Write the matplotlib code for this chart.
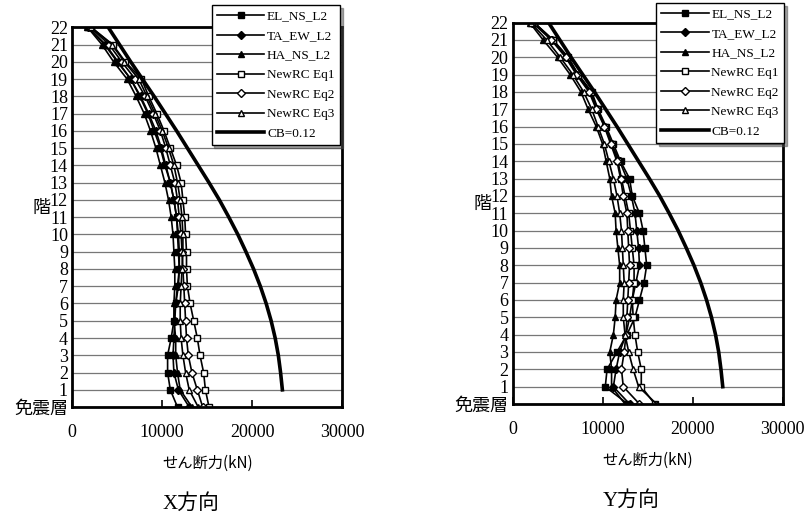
import matplotlib
matplotlib.use("Agg")
import matplotlib.pyplot as plt

plt.rcParams['font.family'] = ['Liberation Serif', 'Noto Sans CJK JP']

#---------------------------- data ----------------------#
floors = list(range(0, 23))
floor_labels = ['免震層'] + [str(f) for f in range(1, 23)]
series_names = ['EL_NS_L2', 'TA_EW_L2', 'HA_NS_L2', 'NewRC Eq1', 'NewRC Eq2', 'NewRC Eq3']

# X direction (kN), floor 0 (免震層) .. 22
x_el_ns = [11700, 10900, 10600, 10600, 11000, 11300, 11500, 11800, 11900, 11800, 11700, 11600,
           11300, 10900, 10300, 9800, 9100, 8400, 7500, 6500, 5000, 3600, 1800]
x_ta_ew = [13000, 11800, 11300, 11200, 11300, 11400, 11500, 11700, 11900, 11900, 11800, 11600,
           11300, 10900, 10400, 9900, 9300, 8500, 7600, 6500, 5100, 3700, 1800]
x_ha_ns = [13300, 12000, 11700, 11500, 11500, 11300, 11300, 11400, 11400, 11300, 11200, 11000,
           10700, 10300, 9800, 9300, 8700, 8000, 7100, 6100, 4600, 3300, 1700]
x_eq1 = [15200, 14800, 14600, 14200, 13900, 13500, 13100, 12800, 12700, 12700, 12600, 12500,
         12300, 12100, 11600, 10900, 10200, 9400, 8500, 7700, 5900, 4500, 2100]
x_eq2 = [14500, 13900, 13300, 12900, 12700, 12600, 12500, 12400, 12300, 12200, 12100, 11900,
         11700, 11400, 10900, 10400, 9800, 9000, 8100, 7000, 5500, 4100, 2000]
x_eq3 = [14000, 13000, 12600, 12300, 12100, 12000, 12000, 12100, 12200, 12300, 12300, 12200,
         12000, 11700, 11300, 10700, 10000, 9200, 8300, 7400, 5800, 4400, 2100]

# Y direction (kN)
y_el_ns = [12800, 10300, 10500, 11600, 12700, 13600, 14100, 14600, 14900, 14700, 14500, 14100,
           13300, 13000, 12000, 11200, 10400, 9500, 8800, 7300, 6200, 4500, 2400]
y_ta_ew = [13000, 11200, 11500, 11900, 12600, 13000, 13300, 13700, 14100, 14000, 13800, 13600,
           13200, 12700, 11900, 11000, 10300, 9400, 8600, 7200, 6000, 4400, 2300]
y_ha_ns = [12500, 11000, 11000, 10800, 11200, 11400, 11500, 11900, 11900, 11700, 11500, 11400,
           11000, 10800, 10400, 10000, 9300, 8400, 7600, 6400, 5000, 3400, 1900]
y_eq1 = [15800, 14300, 14300, 13900, 13600, 13400, 13300, 13500, 13500, 13300, 13100, 12900,
         12500, 12100, 11700, 11000, 10300, 9400, 8700, 7300, 6100, 4500, 2400]
y_eq2 = [14100, 12300, 12100, 12400, 12600, 12700, 12800, 12900, 13000, 12900, 12800, 12700,
         12300, 12000, 11600, 10900, 10200, 9300, 8500, 7100, 5900, 4300, 2200]
y_eq3 = [16000, 14000, 13400, 12900, 12500, 12300, 12300, 12400, 12300, 12200, 12100, 11900,
         11600, 11200, 10700, 10200, 9500, 8800, 7900, 6700, 5300, 3800, 2000]

# design shear CB=0.12, floor 1 .. 22
cb_floors = list(range(1, 23))
cb_shear = [23350, 23150, 22900, 22550, 22100, 21550, 20900, 20150, 19300, 18400, 17400,
            16350, 15200, 14000, 12800, 11600, 10350, 9100, 7800, 6500, 5250, 4000]

markers = [('s', 'black'), ('D', 'black'), ('^', 'black'),
           ('s', 'white'), ('D', 'white'), ('^', 'white')]

#------------------------------- drawing -------------------------------------#
def draw_panel(ax, data, title, leg_anchor):
    for name, vals, (m, fc) in zip(series_names, data, markers):
        ms = 4.5 if m == 'D' else 5
        ax.plot(vals, floors, color='black', lw=1.2, marker=m, ms=ms,
                mfc=fc, mec='black', mew=1.0, label=name)
    ax.plot(cb_shear, cb_floors, color='black', lw=2.6, label='CB=0.12')

    ax.set_xlim(0, 30000)
    ax.set_ylim(0, 22)
    ax.set_xticks([0, 10000, 20000, 30000])
    ax.set_xticklabels(['0', '10000', '20000', '30000'], fontsize=13)
    ax.set_yticks(floors)
    ax.set_yticklabels(floor_labels, fontsize=13)
    ax.tick_params(axis='x', direction='in', length=5, width=1.2, pad=12)
    ax.tick_params(axis='y', length=0, pad=3)
    ax.grid(axis='y', color='#777777', lw=0.9)
    ax.set_axisbelow(True)
    for s in ax.spines.values():
        s.set_linewidth(2)

    ax.set_ylabel('階', fontsize=13, rotation=0, family=['Noto Sans CJK JP'])
    ax.yaxis.set_label_coords(-0.112, 0.5)
    ax.set_xlabel('せん断力(kN)', fontsize=11, family=['Noto Sans CJK JP'], labelpad=10)
    ax.text(0.44, -0.255, title, transform=ax.transAxes, ha='center', va='center',
            fontsize=15, family=['Liberation Serif', 'Noto Sans CJK JP'])

    leg = ax.legend(loc='upper right', bbox_to_anchor=leg_anchor,
                    bbox_transform=fig.transFigure, fontsize=9.5,
                    frameon=True, fancybox=False, shadow=True, edgecolor='black',
                    handlelength=3.6, labelspacing=0.55, borderpad=0.4,
                    handletextpad=0.2, borderaxespad=0)
    leg.get_frame().set_linewidth(1.0)
    return leg


fig = plt.figure(figsize=(8.11, 5.14), dpi=100)
ax1 = fig.add_axes([0.089, 0.208, 0.333, 0.739])
ax2 = fig.add_axes([0.632, 0.214, 0.333, 0.742])

draw_panel(ax1, [x_el_ns, x_ta_ew, x_ha_ns, x_eq1, x_eq2, x_eq3], 'X方向', (0.419, 0.99))
draw_panel(ax2, [y_el_ns, y_ta_ew, y_ha_ns, y_eq1, y_eq2, y_eq3], 'Y方向', (0.967, 0.994))

fig.savefig('out.png', dpi=100)
